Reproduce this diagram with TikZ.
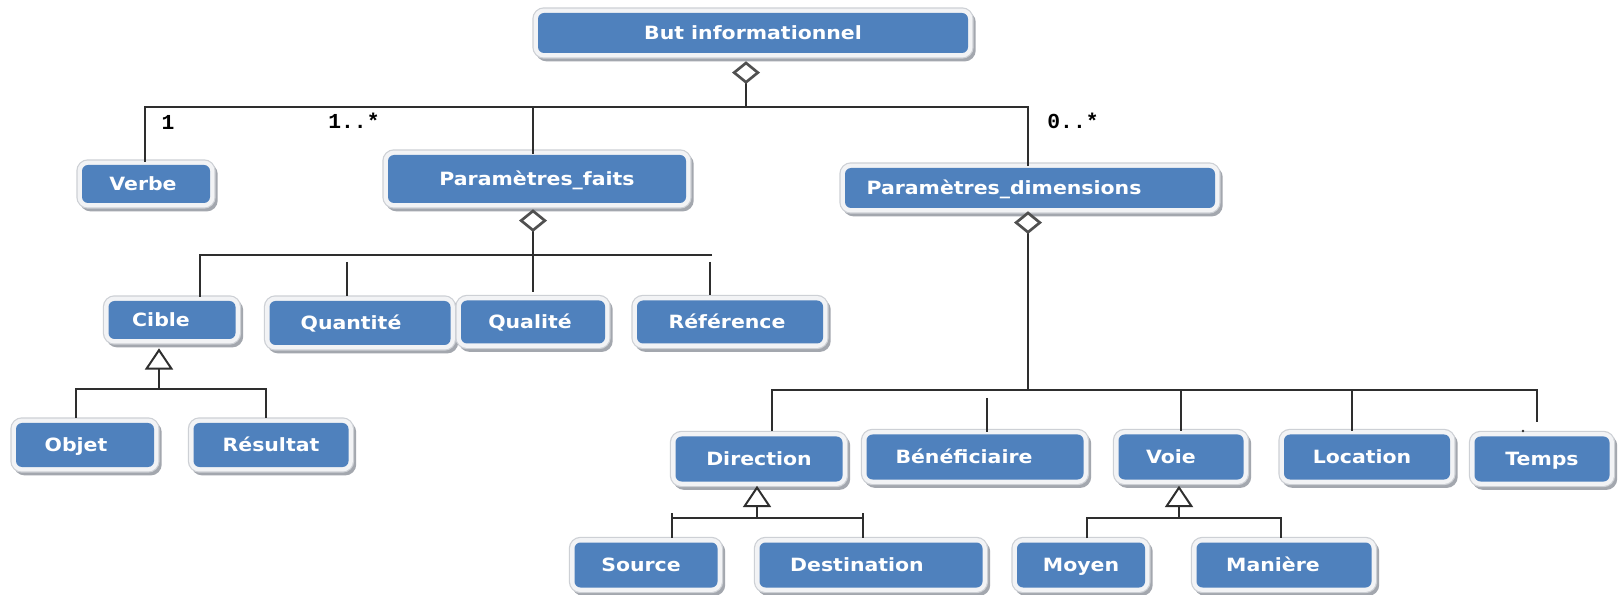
\documentclass[tikz,border=0pt]{standalone}
\usepackage{fontspec}
\usetikzlibrary{arrows.meta,calc}
\newfontfamily\boxfont[FakeStretch=1.12]{DejaVu Sans Bold}
\newfontfamily\labfont{Liberation Mono Bold}
\newdimen\pxu \pxu=0.75pt
\definecolor{boxblue}{HTML}{4F81BD}
\definecolor{halo}{HTML}{F2F3F5}
\definecolor{halorim}{HTML}{CDD0D5}
\definecolor{shadowgray}{HTML}{A3A7AE}
\definecolor{linegray}{HTML}{2E2E2E}
\definecolor{diagray}{HTML}{505050}
\tikzset{
  box/.style={rectangle, rounded corners=4.5pt, fill=boxblue, text=white,
    font=\boxfont\fontsize{13.7}{16}\selectfont, inner sep=0pt,
    text height=10pt, text depth=0pt,
    preaction={draw=shadowgray, fill=shadowgray, line width=7.5pt,
      transform canvas={xshift=2pt, yshift=-2.5pt}},
    preaction={draw=halorim, line width=8.4pt},
    preaction={draw=halo, line width=6.6pt}},
  sz/.style 2 args={minimum width=#1*0.75pt, minimum height=#2*0.75pt},
  tl/.style={execute at end node={\kern#1\pxu}},
  ln/.style={draw=linegray, line width=1.5pt},
  agg/.style={ln, {Diamond[open, fill=white, length=17pt, width=21pt,
    line width=2pt, color=diagray]}-},
  gen/.style={ln, -{Triangle[open, fill=white, length=16pt, width=21pt,
    line width=1.5pt]}},
  mult/.style={font=\labfont\fontsize{16}{18}\selectfont, text=black,
    inner sep=0pt}
}
\begin{document}
\begin{tikzpicture}[x=0.75pt, y=-0.75pt]
\useasboundingbox (0,0) rectangle (1622,595);
\fill[white] (0,0) rectangle (1622,595);

% classes
\node[box, sz={430}{40}] (but) at (753,33) {But informationnel};
\node[box, sz={128}{38}, tl=6] (verbe) at (146,184) {Verbe};
\node[box, sz={298}{48}] (pfaits) at (537,179) {Paramètres\_faits};
\node[box, sz={370}{40}, tl=52] (pdim) at (1030,188) {Paramètres\_dimensions};
\node[box, sz={127}{38}, tl=22] (cible) at (172,320) {Cible};
\node[box, sz={181}{44}, tl=18] (quantite) at (360,323) {Quantité};
\node[box, sz={144}{43}, tl=6] (qualite) at (533,322) {Qualité};
\node[box, sz={186}{43}, tl=6] (reference) at (730,322) {Référence};
\node[box, sz={138}{44}, tl=18] (objet) at (85,445) {Objet};
\node[box, sz={155}{44}] (resultat) at (271,445) {Résultat};
\node[box, sz={167}{45}] (direction) at (759,459) {Direction};
\node[box, sz={217}{45}, tl=22] (benef) at (975,457) {Bénéficiaire};
\node[box, sz={125}{45}, tl=20] (voie) at (1181,457) {Voie};
\node[box, sz={166}{45}, tl=10] (location) at (1367,457) {Location};
\node[box, sz={135}{45}] (temps) at (1542,459) {Temps};
\node[box, sz={143}{45}, tl=10] (source) at (646,565) {Source};
\node[box, sz={223}{45}, tl=28] (destination) at (871,565) {Destination};
\node[box, sz={128}{45}] (moyen) at (1081,565) {Moyen};
\node[box, sz={175}{45}, tl=22] (maniere) at (1284,565) {Manière};

% multiplicities
\node[mult] (m1) at (168,122) {1};
\node[mult] (m2) at (354,121) {1..*};
\node[mult] (m3) at (1073,121) {0..*};

% junction points
\coordinate (j0) at (746,107);
\coordinate (v1) at (145,107);
\coordinate (p1) at (533,107);
\coordinate (d1) at (1028,107);
\coordinate (j1) at (533,255);
\coordinate (b1l) at (200,255);
\coordinate (b1r) at (712,255);
\coordinate (q1) at (347,262);
\coordinate (r1) at (710,262);
\coordinate (j2) at (159,389);
\coordinate (b2l) at (76,389);
\coordinate (b2r) at (266,389);
\coordinate (j3) at (1028,390);
\coordinate (b3l) at (772,390);
\coordinate (b3r) at (1537,390);
\coordinate (be1) at (987,398);
\coordinate (lo1) at (1352,390);
\coordinate (j4) at (757,518);
\coordinate (b4l) at (672,518);
\coordinate (b4r) at (863,518);
\coordinate (j5) at (1179,518);
\coordinate (b5l) at (1087,518);
\coordinate (b5r) at (1281,518);
\coordinate (dot) at (1523,431);

% But informationnel and its parts
\draw[agg] ($(j0 |- but.south)+(0,8)$) -- (j0);
\draw[ln] ($(v1 |- verbe.north)+(0,-3)$) -- (v1) -- (d1)
  -- ($(d1 |- pdim.north)+(0,-2)$);
\draw[ln] ($(p1 |- pfaits.north)+(0,-1)$) -- (p1);

% Paramètres_faits and its parts
\draw[agg] ($(j1 |- pfaits.south)+(0,6)$) -- (j1) -- ($(qualite.north)+(0,-8)$);
\draw[ln] (b1r) -- (b1l) -- ($(b1l |- cible.north)+(0,-4)$);
\draw[ln] (q1) -- ($(q1 |- quantite.north)+(0,-5)$);
\draw[ln] (r1) -- ($(r1 |- reference.north)+(0,-5)$);

% Cible specialisations
\draw[gen] (j2) -- ($(j2 |- cible.south)+(0,9)$);
\draw[ln] ($(b2l |- objet.north)+(0,-5)$) -- (b2l) -- (b2r)
  -- ($(b2r |- resultat.north)+(0,-5)$);

% Paramètres_dimensions and its parts
\draw[agg] ($(j3 |- pdim.south)+(0,3)$) -- (j3);
\draw[ln] ($(b3l |- direction.north)+(0,-5)$) -- (b3l) -- (b3r)
  -- ($(b3r |- temps.north)+(0,-14)$);
\draw[ln] (be1) -- ($(be1 |- benef.north)+(0,-2)$);
\draw[ln] (voie.north |- j3) -- ($(voie.north)+(0,-3)$);
\draw[ln] (lo1) -- ($(lo1 |- location.north)+(0,-3)$);
\fill[linegray] (dot) circle (1.1pt);

% Direction specialisations
\draw[gen] (j4) -- ($(j4 |- direction.south)+(0,4)$);
\draw[ln] (b4l) -- (b4r);
\draw[ln] ($(b4l)+(0,-5)$) -- ($(b4l |- source.north)+(0,-4)$);
\draw[ln] ($(b4r)+(0,-5)$) -- ($(b4r |- destination.north)+(0,-4)$);

% Voie specialisations
\draw[gen] (j5) -- ($(j5 |- voie.south)+(0,6)$);
\draw[ln] ($(b5l |- moyen.north)+(0,-4)$) -- (b5l) -- (b5r)
  -- ($(b5r |- maniere.north)+(0,-4)$);
\end{tikzpicture}
\end{document}
